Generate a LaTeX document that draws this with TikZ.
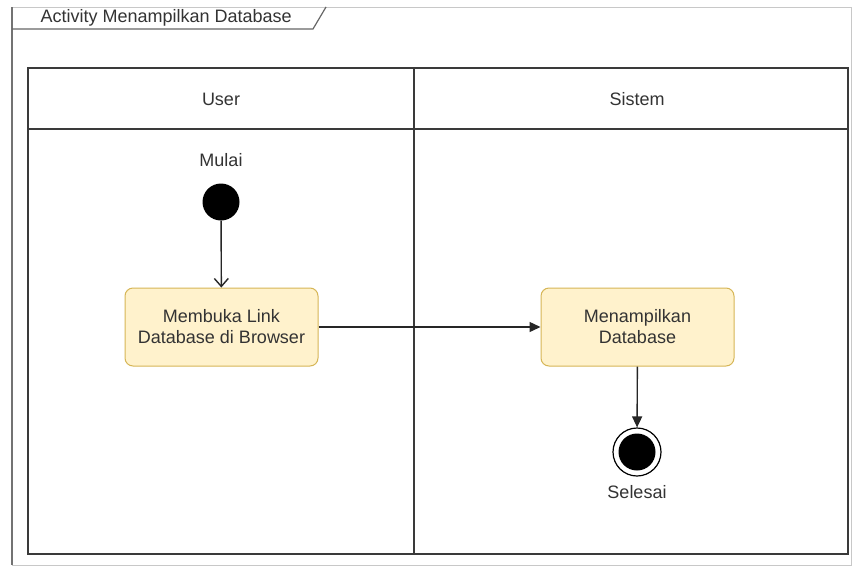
\documentclass[tikz,border=0pt]{standalone}
\usepackage{fontspec}
\setmainfont{Liberation Sans}
\usetikzlibrary{arrows.meta}
\definecolor{boxfill}{HTML}{FFF2CC}
\definecolor{boxline}{HTML}{D6B656}
\definecolor{lane}{HTML}{3A3A3A}
\definecolor{frame}{HTML}{C8C8C8}
\definecolor{txt}{HTML}{333333}
\tikzset{
  act/.style={draw=boxline, fill=boxfill, rounded corners=8pt, minimum width=193pt, minimum height=78pt, align=center, font=\fontsize{18}{21}\selectfont, text=txt, line width=1pt},
  lbl/.style={font=\fontsize{18}{21}\selectfont, text=txt},
  flow/.style={draw=black!85, line width=1.4pt},
}
\begin{document}
\begin{tikzpicture}[x=1pt,y=-1pt]
\useasboundingbox (0,0) rectangle (854,568);
\fill[white] (0,0) rectangle (854,568);
% outer frame
\draw[frame, line width=0.8pt] (12,7) -- (851,7) -- (851,565) -- (12,565);
\draw[black!55, line width=1.4pt] (12,7) -- (12,565);
\draw[black!60, line width=1.2pt] (12,29) -- (313,29) -- (326,7);
\node[lbl, anchor=west] (title) at (37,18) {Activity Menampilkan Database};
% swimlanes
\draw[lane, line width=1.5pt] (28,68) rectangle (848,554);
\draw[lane, line width=1.5pt] (28,129) -- (848,129);
\draw[lane, line width=1.5pt] (414,68) -- (414,554);
\node[lbl] (user) at (221,99) {User};
\node[lbl] (sistem) at (637,99) {Sistem};
% nodes
\node[lbl] (mulai) at (221,160) {Mulai};
\node[circle, fill=black, minimum size=37pt, inner sep=0pt] (start) at (221,202) {};
\node[act] (a1) at (221.5,327) {Membuka Link\\Database di Browser};
\node[act] (a2) at (637.5,327) {Menampilkan\\Database};
\node[circle, draw=black, line width=1.2pt, fill=white, minimum size=48pt, inner sep=0pt] (end) at (637,452) {};
\node[circle, fill=black, minimum size=37pt, inner sep=0pt] (endin) at (end.center) {};
\node[lbl] (selesai) at (637,492) {Selesai};
% flows
\draw[flow, -{Straight Barb[length=8pt, width=14pt, line width=1.4pt]}] (start) -- (a1);
\draw[flow, -{Triangle[length=11pt, width=10pt]}] (a1) -- (a2);
\draw[flow, -{Triangle[length=11pt, width=10pt]}] (a2) -- (end);
\end{tikzpicture}
\end{document}
